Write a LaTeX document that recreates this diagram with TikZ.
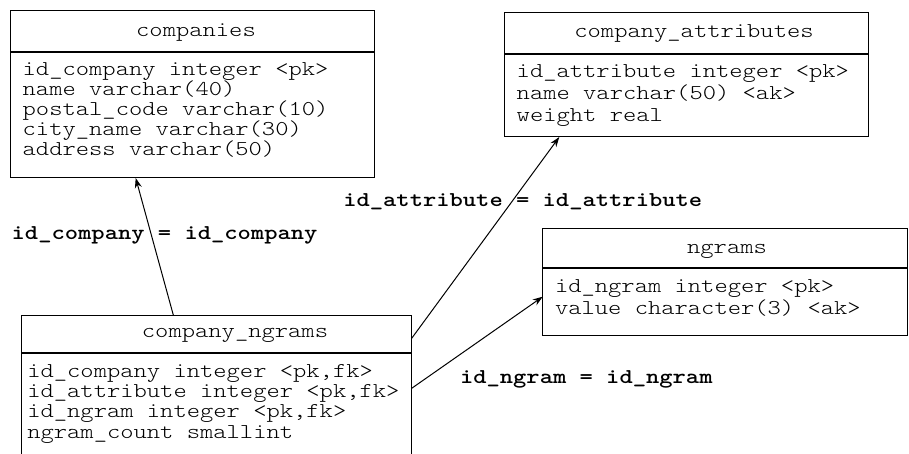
\documentclass[tikz,border=0pt]{standalone}
\usepackage{fontspec}
\newfontfamily\tblfont{lmmonolt10-regular}[Extension=.otf,FakeStretch=1.2,BoldFont=lmmonolt10-bold]
\usetikzlibrary{calc,arrows.meta}
\begin{document}
\begin{tikzpicture}[x=1pt,y=-1pt,
  box/.style={draw,line width=1pt,inner sep=0pt,outer sep=0pt,anchor=north west},
  openbox/.style={inner sep=0pt,outer sep=0pt,anchor=north west},
  border/.style={line width=1pt},
  divider/.style={line width=2pt},
  txt/.style={inner sep=0pt,outer sep=0pt,anchor=base west,font=\fontsize{21.1}{24}\tblfont},
  hdr/.style={inner sep=0pt,outer sep=0pt,anchor=base,font=\fontsize{21.1}{24}\tblfont},
  lbl/.style={inner sep=0pt,outer sep=0pt,anchor=base west,font=\fontsize{21.1}{24}\tblfont\bfseries},
  conn/.style={line width=1pt,-{Stealth[length=10pt,width=7pt]}}]
\useasboundingbox (0,0) rectangle (909,454);

% companies
\node[box,minimum width=363.3pt,minimum height=167pt] (comp) at (10.7,11) {};
\draw[divider] ($(comp.north west)+(0,41)$) -- ($(comp.north east)+(0,41)$);
\node[hdr] (comph) at (196,37) {companies};
\node[txt] (comp1) at (22.7,76) {id\_company integer <pk>};
\node[txt] (comp2) at (22.7,96) {name varchar(40)};
\node[txt] (comp3) at (22.7,116) {postal\_code varchar(10)};
\node[txt] (comp4) at (22.7,136) {city\_name varchar(30)};
\node[txt] (comp5) at (22.7,156) {address varchar(50)};

% company_attributes
\node[box,minimum width=364pt,minimum height=124pt] (attr) at (504,13) {};
\draw[divider] ($(attr.north west)+(0,41)$) -- ($(attr.north east)+(0,41)$);
\node[hdr] (attrh) at (694,38) {company\_attributes};
\node[txt] (attr1) at (516.7,78) {id\_attribute integer <pk>};
\node[txt] (attr2) at (516.7,100) {name varchar(50) <ak>};
\node[txt] (attr3) at (516.7,122) {weight real};

% ngrams
\node[box,minimum width=365pt,minimum height=106.7pt] (ngr) at (542.7,228.3) {};
\draw[divider] ($(ngr.north west)+(0,40)$) -- ($(ngr.north east)+(0,40)$);
\node[hdr] (ngrh) at (727,253) {ngrams};
\node[txt] (ngr1) at (555,292) {id\_ngram integer <pk>};
\node[txt] (ngr2) at (555,314) {value character(3) <ak>};

% company_ngrams (cut off at the bottom)
\node[openbox,minimum width=390pt,minimum height=139.5pt] (cng) at (21.7,315) {};
\draw[border] (cng.south west) -- (cng.north west) -- (cng.north east) -- (cng.south east);
\draw[divider] ($(cng.north west)+(0,37.7)$) -- ($(cng.north east)+(0,37.7)$);
\node[hdr] (cngh) at (235,337) {company\_ngrams};
\node[txt] (cng1) at (27.3,377) {id\_company integer <pk,fk>};
\node[txt] (cng2) at (27.3,397) {id\_attribute integer <pk,fk>};
\node[txt] (cng3) at (27.3,417) {id\_ngram integer <pk,fk>};
\node[txt] (cng4) at (27.3,438) {ngram\_count smallint};

% connector end points
\coordinate (c1s) at ($(cng.north west)+(151.6,0)$);
\coordinate (c1e) at ($(comp.south west)+(125,0)$);
\coordinate (c2s) at ($(cng.north east)+(0,23.3)$);
\coordinate (c2e) at ($(attr.south west)+(55.3,0)$);
\coordinate (c3s) at ($(cng.north east)+(0,73.3)$);
\coordinate (c3e) at ($(ngr.north west)+(0,68.4)$);

\draw[conn] (c1s) -- (c1e);
\draw[conn] (c2s) -- (c2e);
\draw[conn] (c3s) -- (c3e);

% labels
\node[lbl] (l1) at (11.7,240) {id\_company = id\_company};
\node[lbl] (l2) at (343.3,206.7) {id\_attribute = id\_attribute};
\node[lbl] (l3) at (460,383) {id\_ngram = id\_ngram};
\end{tikzpicture}
\end{document}
